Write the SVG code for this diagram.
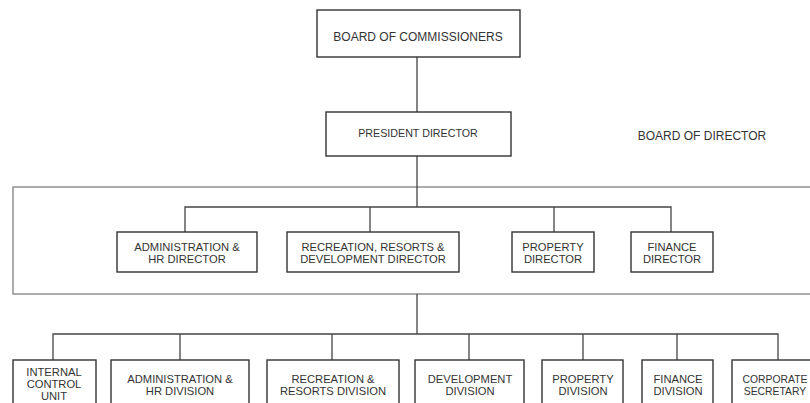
<svg xmlns="http://www.w3.org/2000/svg" width="810" height="403" viewBox="0 0 810 403">
<style>
.box{fill:#fff;stroke:#333;stroke-width:1.4}
.frame{fill:none;stroke:#777;stroke-width:1.2}
.ln{fill:none;stroke:#444;stroke-width:1.3}
text{font-family:"Liberation Sans",Arial,sans-serif;fill:#333;text-anchor:middle}
.t{font-size:11.2px}
.big{font-size:12px}
</style>
<rect width="810" height="403" fill="#fff"/>
<rect class="frame" x="13" y="187" width="810" height="107"/>
<g id="connectors">
<path class="ln" d="M417 57V112M417 156V207M185 232V207H671V232M370 207V232M554 207V232"/>
<path class="ln" d="M417 294V334M53 360V334H778V360M180 334V360M332 334V360M469 334V360M583 334V360M677 334V360"/>
</g>
<g id="board_commissioners"><rect class="box" x="317" y="10" width="203" height="47"/><text class="big" x="418" y="41">BOARD OF COMMISSIONERS</text></g>
<g id="president_director"><rect class="box" x="326" y="112" width="185" height="44"/><text x="418" y="137" font-size="10.7">PRESIDENT DIRECTOR</text></g>
<g id="board_of_director_label"><text class="big" x="702" y="140">BOARD OF DIRECTOR</text></g>
<g id="admin_hr_director"><rect class="box" x="117" y="232" width="140" height="40"/><text class="t" x="187" y="251">ADMINISTRATION &amp;</text><text class="t" x="187" y="263">HR DIRECTOR</text></g>
<g id="recreation_director"><rect class="box" x="287" y="232" width="172" height="40"/><text class="t" x="373" y="251">RECREATION, RESORTS &amp;</text><text class="t" x="373" y="263">DEVELOPMENT DIRECTOR</text></g>
<g id="property_director"><rect class="box" x="512" y="232" width="82" height="40"/><text class="t" x="553" y="251">PROPERTY</text><text class="t" x="553" y="263">DIRECTOR</text></g>
<g id="finance_director"><rect class="box" x="631" y="232" width="82" height="40"/><text class="t" x="672" y="251">FINANCE</text><text class="t" x="672" y="263">DIRECTOR</text></g>
<g id="internal_control"><rect class="box" x="13" y="360" width="83" height="60"/><text class="t" x="54" y="376">INTERNAL</text><text class="t" x="54" y="388">CONTROL</text><text class="t" x="54" y="400">UNIT</text></g>
<g id="admin_hr_division"><rect class="box" x="111" y="360" width="138" height="60"/><text class="t" x="180" y="383">ADMINISTRATION &amp;</text><text class="t" x="180" y="395">HR DIVISION</text></g>
<g id="recreation_division"><rect class="box" x="267" y="360" width="132" height="60"/><text class="t" x="333" y="383">RECREATION &amp;</text><text class="t" x="333" y="395">RESORTS DIVISION</text></g>
<g id="development_division"><rect class="box" x="415" y="360" width="109" height="60"/><text class="t" x="470" y="383">DEVELOPMENT</text><text class="t" x="470" y="395">DIVISION</text></g>
<g id="property_division"><rect class="box" x="542" y="360" width="81" height="60"/><text class="t" x="583" y="383">PROPERTY</text><text class="t" x="583" y="395">DIVISION</text></g>
<g id="finance_division"><rect class="box" x="642" y="360" width="71" height="60"/><text class="t" x="678" y="383">FINANCE</text><text class="t" x="678" y="395">DIVISION</text></g>
<g id="corporate_secretary"><rect class="box" x="732" y="360" width="100" height="60"/><text x="775" y="383" font-size="10.4">CORPORATE</text><text x="775" y="395" font-size="10.4">SECRETARY</text></g>
</svg>
